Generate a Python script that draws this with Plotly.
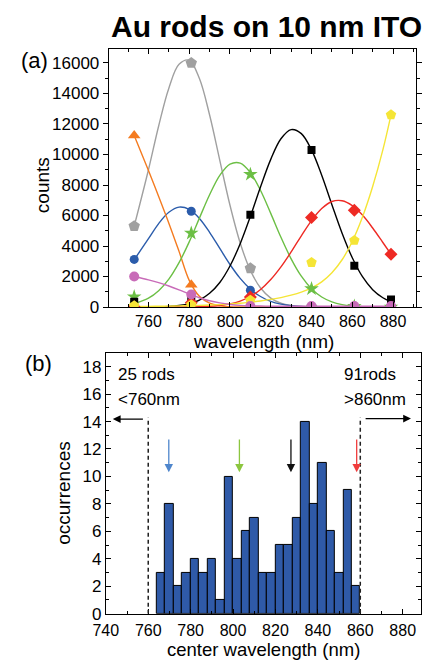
import plotly.graph_objects as go

W, H = 422, 668
def px(x): return x / W
def py(y): return 1 - y / H

FONT = "Liberation Sans, Arial, Helvetica, sans-serif"

# ---------------- panel (a) data ----------------
marker_wl = [753, 781, 810, 840, 861, 879]
curve_wl = [753, 760, 765, 770, 775, 780, 785, 790, 795, 800, 805, 810, 815,
            820, 825, 830, 835, 840, 845, 850, 855, 860, 865, 870, 875, 879]

gray_pts = [5300, 16000, 2540, 0, 0, 0]
gray_curve = [5300, 9000, 11870, 14350, 15910, 16180, 14980, 12590, 9620, 6670, 4200, 2400, 1245,
              588, 251, 98, 35, 10, 3, 0, 0, 0, 0, 0, 0, 0]
blue_pts = [3120, 6280, 1100, 0, 0, 0]
blue_curve = [3100, 4480, 5470, 6210, 6550, 6400, 5810, 4900, 3840, 2790, 1880, 1180, 690,
              370, 190, 90, 40, 15, 6, 0, 0, 0, 0, 0, 0, 0]
orange_pts = [11250, 1460, 0, 0, 0, 0]
orange_curve = [11250, 8950, 7250, 5500, 3650, 1750, 700, 250, 80, 25, 8, 0, 0,
                0, 0, 0, 0, 0, 0, 0, 0, 0, 0, 0, 0, 0]
green_pts = [670, 4840, 8700, 1200, 50, 0]
green_curve = [220, 580, 1070, 1830, 2910, 4270, 5830, 7360, 8630, 9370, 9440, 8820, 7640,
               6140, 4570, 3160, 2020, 1200, 660, 340, 160, 70, 28, 10, 3, 1]
black_pts = [350, 450, 6050, 10300, 2700, 500]
black_curve = [1, 5, 15, 40, 97, 220, 460, 900, 1610, 2690, 4150, 5940, 7880,
               9680, 11030, 11630, 11370, 10300, 8640, 6710, 4840, 3230, 1990, 1140, 610, 350]
red_pts = [0, 280, 650, 5870, 6340, 3460]
red_curve = [0, 0, 0, 1, 4, 9, 22, 49, 104, 209, 393, 690, 1150,
             1800, 2630, 3610, 4670, 5670, 6460, 6920, 6970, 6650, 6030, 5180, 4230, 3460]
yellow_pts = [80, 150, 450, 2920, 4370, 12600]
yellow_curve = [30, 40, 50, 60, 75, 90, 110, 130, 160, 200, 250, 320, 400,
                500, 620, 780, 980, 1250, 1650, 2250, 3100, 4300, 5900, 7900, 10300, 12600]
pink_pts = [2000, 820, 60, 60, 60, 60]
pink_curve = [2000, 1780, 1600, 1380, 1130, 860, 610, 410, 270, 170, 110, 80, 65,
              55, 55, 55, 55, 55, 55, 55, 55, 55, 55, 55, 55, 55]

# ---------------- panel (b) data ----------------
bin_centers = [766, 770, 774, 778, 782, 786, 790, 794, 798, 802, 806, 810,
               814, 818, 822, 826, 830, 834, 838, 842, 846, 850, 854, 858]
counts = [3, 8, 2, 3, 4, 3, 4, 1, 10, 4, 6, 7, 3, 3, 5, 5, 7, 14, 8, 11, 6, 3, 9, 2]
arrow_wl = [769.7, 803.0, 827.3, 858.3]
arrow_colors = ["#4f86cc", "#8cc63f", "#111111", "#f03c3c"]

series = [
    ("#a0a0a0", "pentagon", 12, gray_pts, gray_curve),
    ("#2b5cab", "circle", 9, blue_pts, blue_curve),
    ("#f47b20", "triangle-up", 11, orange_pts, orange_curve),
    ("#6cbf45", "star", 11, green_pts, green_curve),
    ("#000000", "square", 8, black_pts, black_curve),
    ("#ee2a24", "diamond", 10, red_pts, red_curve),
    ("#f5e536", "pentagon", 11, yellow_pts, yellow_curve),
    ("#c86bb8", "circle", 10, pink_pts, pink_curve),
]

fig = go.Figure()
for color, sym, size, pts, curve in series:
    fig.add_trace(go.Scatter(x=curve_wl, y=curve, mode="lines",
                             line=dict(color=color, width=1.4, shape="spline", smoothing=1.0),
                             xaxis="x", yaxis="y", showlegend=False, hoverinfo="skip"))
for color, sym, size, pts, curve in series:
    fig.add_trace(go.Scatter(x=marker_wl, y=pts, mode="markers",
                             marker=dict(color=color, symbol=sym, size=size, line=dict(width=0)),
                             xaxis="x", yaxis="y", showlegend=False))

fig.add_trace(go.Bar(x=bin_centers, y=counts, width=4,
                     marker=dict(color="#2f5aa8", line=dict(color="#000000", width=1)),
                     xaxis="x2", yaxis="y2", showlegend=False))

axis_common = dict(showline=True, linecolor="black", linewidth=1, mirror="ticks",
                   showgrid=False, zeroline=False, ticklen=5, tickcolor="black",
                   tickfont=dict(family=FONT, size=16, color="black"))

fig.update_layout(
    width=W, height=H, margin=dict(l=0, r=0, t=0, b=0),
    paper_bgcolor="white", plot_bgcolor="white",
    font=dict(family=FONT, color="black"),
    xaxis=dict(domain=[px(99), px(416.7)], range=[740.5, 891.2], anchor="y",
               tickvals=[760, 780, 800, 820, 840, 860, 880], ticks="inside",
               minor=dict(dtick=10, tick0=750, ticks="inside", ticklen=3, tickcolor="black"),
               **axis_common),
    yaxis=dict(domain=[py(311.7), py(50)], range=[0, 16900], anchor="x",
               dtick=2000, ticks="outside", tickformat="d",
               minor=dict(dtick=1000, ticks="outside", ticklen=3, tickcolor="black"),
               **{**axis_common, "tickfont": dict(family=FONT, size=17, color="black")}),
    xaxis2=dict(domain=[px(96), px(421.5)], range=[740, 888.4], anchor="y2",
                tickvals=[740, 760, 780, 800, 820, 840, 860, 880], ticks="inside",
                ticklabelstandoff=2,
                minor=dict(dtick=10, tick0=750, ticks="inside", ticklen=3, tickcolor="black"),
                **axis_common),
    yaxis2=dict(domain=[py(623), py(358.3)], range=[0, 19], anchor="x2",
                dtick=2, ticks="inside",
                minor=dict(dtick=1, ticks="inside", ticklen=3, tickcolor="black"),
                **{**axis_common, "tickfont": dict(family=FONT, size=17, color="black")}),
    bargap=0,
)

ann = []
def text(x, y, s, size, bold=False, xanchor="center", angle=0):
    ann.append(dict(x=px(x), y=py(y), xref="paper", yref="paper", text=s, showarrow=False,
                    xanchor=xanchor, yanchor="middle", textangle=angle,
                    font=dict(family=FONT, size=size, color="black",
                              weight="bold" if bold else "normal")))

text(262, 27, "Au rods on 10 nm ITO", 30, bold=True)
text(22, 61, "(a)", 22)
text(26, 369, "(b)", 22)
text(259, 347, "wavelength (nm)", 19)
text(259, 659, "center wavelength (nm)", 18.5)
text(30, 188, "counts", 19, angle=-90)
text(52, 500, "occurrences", 19, angle=-90)

# panel (b) labels in data coordinates
for s, x, y in [("25 rods", 745.0, 17.4), ("&lt;760nm", 745.0, 15.6),
                ("91rods", 851.2, 17.4), ("&gt;860nm", 851.2, 15.6)]:
    ann.append(dict(x=x, y=y, xref="x2", yref="y2", text=s, showarrow=False,
                    xanchor="left", yanchor="middle",
                    font=dict(family=FONT, size=17, color="black")))

# range arrows
ann.append(dict(x=743.3, y=14.18, ax=758.2, ay=14.18, xref="x2", yref="y2", axref="x2", ayref="y2",
                text="", showarrow=True, arrowhead=2, arrowsize=1.2, arrowwidth=1.3, arrowcolor="black"))
ann.append(dict(x=883.9, y=14.22, ax=861.8, ay=14.22, xref="x2", yref="y2", axref="x2", ayref="y2",
                text="", showarrow=True, arrowhead=2, arrowsize=1.2, arrowwidth=1.3, arrowcolor="black"))
# peak arrows
for wl, c in zip(arrow_wl, arrow_colors):
    ann.append(dict(x=wl, y=10.3, ax=wl, ay=12.8, xref="x2", yref="y2", axref="x2", ayref="y2",
                    text="", showarrow=True, arrowhead=2, arrowsize=1.3, arrowwidth=1.3, arrowcolor=c))

fig.update_layout(annotations=ann)

shapes = []
for xv in [760, 860]:
    shapes.append(dict(type="line", x0=xv, x1=xv, y0=0, y1=14.3, xref="x2", yref="y2",
                       line=dict(color="#222222", width=1.5, dash="4px,3px")))
fig.update_layout(shapes=shapes)

fig.write_html("out.html")
